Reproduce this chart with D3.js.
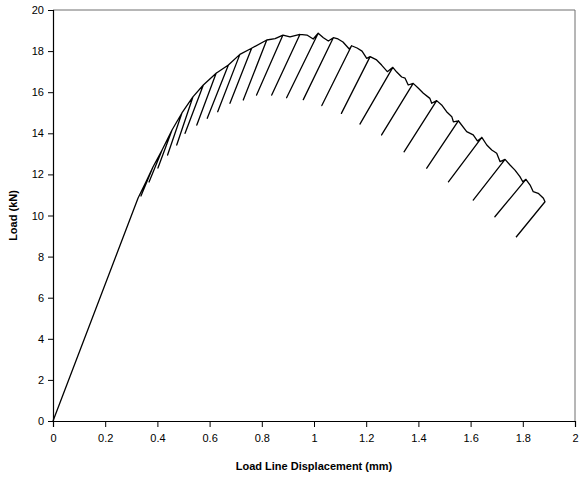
<!DOCTYPE html>
<html>
<head>
<meta charset="utf-8">
<script src="https://cdn.jsdelivr.net/npm/d3@7"></script>
<style>
  body { margin: 0; background: #fff; }
  text { font-family: "Liberation Sans", Arial, sans-serif; }
</style>
</head>
<body>
<div id="chart"></div>
<script>
// Load-displacement record, points in path order (mm, kN).
// Each unloading cycle runs peak -> bottom -> back to the same peak.
var displacement = [
  0, 0.326, 0.356,
  0.383, 0.337, 0.383,
  0.418, 0.368, 0.418,
  0.456, 0.402, 0.456,
  0.494, 0.439, 0.494,
  0.536, 0.474, 0.536,
  0.576, 0.506, 0.576,
  0.625, 0.551, 0.625,
  0.672, 0.591, 0.672,
  0.716, 0.631, 0.716,
  0.761, 0.678, 0.761,
  0.819, 0.729, 0.819,
  0.851, 0.881, 0.780, 0.881,
  0.908, 0.946, 0.838, 0.946,
  0.973, 0.997, 1.016, 0.895, 1.016,
  1.036, 1.055, 1.074, 0.959, 1.074,
  1.092, 1.111, 1.135, 1.144, 1.030, 1.144,
  1.165, 1.184, 1.202, 1.215, 1.105, 1.215,
  1.240, 1.259, 1.281, 1.302, 1.176, 1.302,
  1.317, 1.336, 1.349, 1.361, 1.380, 1.259, 1.380,
  1.400, 1.419, 1.444, 1.451, 1.470, 1.345, 1.470,
  1.489, 1.508, 1.528, 1.534, 1.553, 1.432, 1.553,
  1.585, 1.610, 1.626, 1.643, 1.515, 1.643,
  1.662, 1.681, 1.700, 1.713, 1.732, 1.610, 1.732,
  1.751, 1.770, 1.789, 1.800, 1.812, 1.693, 1.812,
  1.828, 1.840, 1.859, 1.879, 1.885, 1.774
];
var load = [
  0, 10.85, 11.63,
  12.36, 10.95, 12.36,
  13.19, 11.63, 13.19,
  14.16, 12.31, 14.16,
  14.99, 12.94, 14.99,
  15.77, 13.43, 15.77,
  16.35, 14.00, 16.35,
  16.92, 14.40, 16.92,
  17.32, 14.73, 17.32,
  17.84, 15.05, 17.84,
  18.14, 15.46, 18.14,
  18.54, 15.62, 18.54,
  18.61, 18.78, 15.86, 18.78,
  18.69, 18.81, 15.86, 18.81,
  18.78, 18.59, 18.87, 15.73, 18.87,
  18.65, 18.49, 18.65, 15.64, 18.65,
  18.59, 18.44, 18.10, 18.26, 15.35, 18.26,
  18.15, 18.00, 17.65, 17.73, 14.97, 17.73,
  17.57, 17.32, 17.00, 17.21, 14.45, 17.21,
  16.98, 16.74, 16.68, 16.35, 16.43, 13.92, 16.43,
  16.19, 15.95, 15.70, 15.46, 15.59, 13.10, 15.59,
  15.38, 15.05, 14.81, 14.56, 14.61, 12.30, 14.61,
  14.08, 13.92, 13.63, 13.80, 11.64, 13.80,
  13.43, 13.19, 13.03, 12.62, 12.73, 10.75, 12.73,
  12.46, 12.21, 11.89, 11.64, 11.76, 9.94, 11.76,
  11.48, 11.16, 11.08, 10.84, 10.67, 8.94
];
var xTicks = [0, 0.2, 0.4, 0.6, 0.8, 1, 1.2, 1.4, 1.6, 1.8, 2];
var yTicks = [0, 2, 4, 6, 8, 10, 12, 14, 16, 18, 20];
var xTitle = "Load Line Displacement (mm)";
var yTitle = "Load (kN)";

var width = 581, height = 480;
var margin = { top: 10, right: 6, bottom: 59, left: 53 };

var svg = d3.select("#chart").append("svg")
  .attr("width", width)
  .attr("height", height);

var x = d3.scaleLinear().domain([0, 2]).range([margin.left, width - margin.right]);
var y = d3.scaleLinear().domain([0, 20]).range([height - margin.bottom, margin.top]);

// top and right frame
svg.append("path")
  .attr("d", "M" + x(0) + "," + y(20) + "H" + x(2) + "V" + y(0))
  .attr("fill", "none")
  .attr("stroke", "#6e6e6e")
  .attr("stroke-width", 1);

var xAxis = svg.append("g")
  .attr("transform", "translate(0," + y(0) + ")")
  .call(d3.axisBottom(x).tickValues(xTicks).tickSize(6).tickPadding(7).tickFormat(d3.format("~g")));

var yAxis = svg.append("g")
  .attr("transform", "translate(" + x(0) + ",0)")
  .call(d3.axisLeft(y).tickValues(yTicks).tickSize(5).tickPadding(4).tickFormat(d3.format("~g")));

[xAxis, yAxis].forEach(function (g) {
  g.select(".domain").attr("stroke", "#000").attr("stroke-width", 1.2);
  g.selectAll(".tick line").attr("stroke", "#000");
  g.selectAll(".tick text")
    .attr("fill", "#000")
    .style("font-family", "'Liberation Sans', Arial, sans-serif")
    .style("font-size", "11px");
});

// curve
var points = displacement.map(function (d, i) { return [d, load[i]]; });
var line = d3.line()
  .x(function (d) { return x(d[0]); })
  .y(function (d) { return y(d[1]); });

svg.append("path")
  .datum(points)
  .attr("d", line)
  .attr("fill", "none")
  .attr("stroke", "#000")
  .attr("stroke-width", 1.3)
  .attr("stroke-linejoin", "round");

// titles
svg.append("text")
  .attr("x", (x(0) + x(2)) / 2)
  .attr("y", 470)
  .attr("text-anchor", "middle")
  .style("font-size", "11px")
  .style("font-weight", "bold")
  .text(xTitle);

svg.append("text")
  .attr("transform", "translate(17," + (y(0) + y(20)) / 2 + ") rotate(-90)")
  .attr("text-anchor", "middle")
  .style("font-size", "11px")
  .style("font-weight", "bold")
  .text(yTitle);
</script>
</body>
</html>
